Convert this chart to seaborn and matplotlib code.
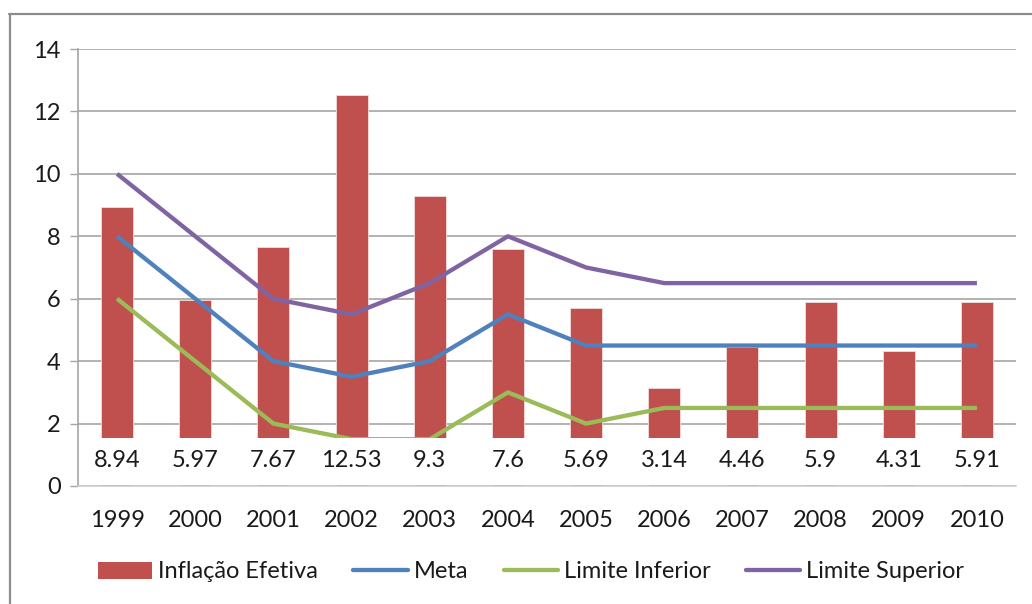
import matplotlib
matplotlib.use("Agg")
import matplotlib.pyplot as plt
import seaborn as sns
import numpy as np
import pandas as pd
from matplotlib.lines import Line2D
from matplotlib.patches import Patch

years = ["1999", "2000", "2001", "2002", "2003", "2004", "2005", "2006", "2007", "2008", "2009", "2010"]
inflacao = [8.94, 5.97, 7.67, 12.53, 9.3, 7.6, 5.69, 3.14, 4.46, 5.9, 4.31, 5.91]
meta = [8, 6, 4, 3.5, 4, 5.5, 4.5, 4.5, 4.5, 4.5, 4.5, 4.5]
lim_inf = [6, 4, 2, 1.5, 1.5, 3, 2, 2.5, 2.5, 2.5, 2.5, 2.5]
lim_sup = [10, 8, 6, 5.5, 6.5, 8, 7, 6.5, 6.5, 6.5, 6.5, 6.5]
y_ticks = [0, 2, 4, 6, 8, 10, 12, 14]

sns.set_theme(style="white")
plt.rcParams["font.family"] = ["Lato", "DejaVu Sans"]

c_bar = "#C0504D"
c_meta = "#4F81BD"
c_inf = "#9BBB59"
c_sup = "#8064A2"
c_grid = "#A6A6A6"
c_txt = "#1A1A1A"

fig = plt.figure(figsize=(10.32, 6.04), dpi=100)
ax = fig.add_axes([78 / 1032, 1 - 486 / 604, (1016 - 78) / 1032, (486 - 49) / 604])

df = pd.DataFrame({"ano": years, "val": inflacao})
sns.barplot(data=df, x="ano", y="val", color=c_bar, width=0.41, saturation=1,
            edgecolor="#F2DCDB", linewidth=0.6, ax=ax, zorder=2)

xpos = np.arange(len(years))
for vals, col in [(meta, c_meta), (lim_inf, c_inf), (lim_sup, c_sup)]:
    sns.lineplot(x=xpos, y=vals, color=col, linewidth=3.1, ax=ax, zorder=3,
                 solid_capstyle="butt")

# white band where the data labels sit
ax.axhspan(0.02, 1.55, color="white", zorder=4, linewidth=0)
for i, v in enumerate(inflacao):
    ax.text(i, 0.82, f"{v:g}", ha="center", va="center", fontsize=17,
            color=c_txt, zorder=5)

ax.set_xlim(-0.5, len(years) - 0.5)
ax.set_ylim(0, 14)
ax.set_yticks(y_ticks)
ax.set_yticklabels([str(t) for t in y_ticks], fontsize=17, color=c_txt)
ax.set_xticks(xpos)
ax.set_xticklabels(years, fontsize=17, color=c_txt)
ax.set_xticks(np.arange(-0.5, len(years)), minor=True)
ax.tick_params(axis="x", which="major", length=0, pad=17)
ax.tick_params(axis="x", which="minor", length=7, width=1, color=c_grid, direction="out")
ax.tick_params(axis="y", which="major", length=6, width=1, color=c_grid, direction="out", pad=6.5, left=True)
ax.set_xlabel("")
ax.set_ylabel("")
ax.grid(axis="y", color=c_grid, linewidth=1.2, zorder=0)
ax.set_axisbelow(True)
for s in ["top", "right"]:
    ax.spines[s].set_visible(False)
ax.spines["left"].set_color(c_grid)
ax.spines["left"].set_linewidth(1.2)
ax.spines["left"].set_zorder(6)
ax.spines["bottom"].set_color("#CFCFCF")
ax.spines["bottom"].set_linewidth(1.2)
ax.spines["bottom"].set_zorder(6)

handles = [Patch(facecolor=c_bar, edgecolor="none"),
           Line2D([], [], color=c_meta, lw=3.1),
           Line2D([], [], color=c_inf, lw=3.1),
           Line2D([], [], color=c_sup, lw=3.1)]
labels = ["Inflação Efetiva", "Meta", "Limite Inferior", "Limite Superior"]
fig.legend(handles, labels, loc="center", bbox_to_anchor=(531 / 1032, 1 - 572 / 604),
           ncol=4, frameon=False, fontsize=17, handlelength=2.3, handleheight=0.7,
           handletextpad=0.25, columnspacing=1.5, labelcolor=c_txt)

# outer chart border (left and top)
fig.add_artist(Line2D([9.5 / 1032, 9.5 / 1032], [0, 1 - 14 / 604], transform=fig.transFigure,
                      color="#8C8C8C", lw=1.6))
fig.add_artist(Line2D([9 / 1032, 1], [1 - 14 / 604, 1 - 14 / 604], transform=fig.transFigure,
                      color="#8C8C8C", lw=1.6))

fig.savefig("out.png", dpi=100, facecolor="white")
